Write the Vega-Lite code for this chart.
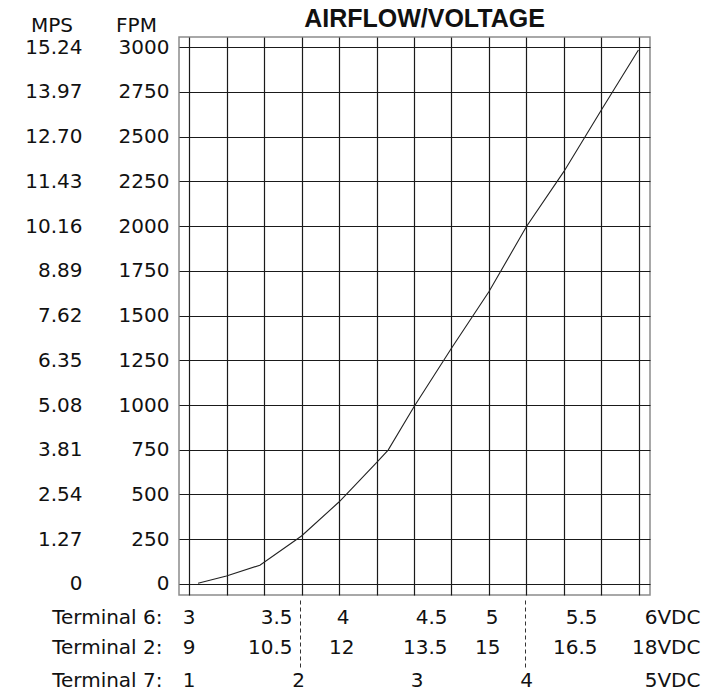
{
  "$schema": "https://vega.github.io/schema/vega-lite/v6.json",
  "width": 471,
  "height": 558,
  "autosize": {"type": "none"},
  "padding": {"left": 179, "top": 37, "right": 64, "bottom": 99},
  "background": "white",
  "title": {
    "text": "AIRFLOW/VOLTAGE",
    "frame": "group",
    "anchor": "middle",
    "dx": 10,
    "offset": -17,
    "font": "Liberation Sans",
    "fontSize": 25,
    "fontWeight": "bold",
    "color": "#111"
  },
  "config": {
    "view": {"stroke": "#8c8c8c", "strokeWidth": 1.5},
    "axis": {
      "labelFont": "DejaVu Sans",
      "labelFontSize": 20,
      "labelColor": "#111",
      "titleFont": "DejaVu Sans",
      "titleFontSize": 20,
      "titleFontWeight": "normal",
      "titleColor": "#111",
      "labelFlush": false,
      "labelOverlap": false,
      "labelBound": false
    }
  },
  "datasets": {
    "curve": [
      {"t7": 1.08, "fpm": 4},
      {"t7": 1.333, "fpm": 45},
      {"t7": 1.63, "fpm": 105},
      {"t7": 2.0, "fpm": 268},
      {"t7": 2.333, "fpm": 458},
      {"t7": 2.667, "fpm": 678},
      {"t7": 2.77, "fpm": 748},
      {"t7": 3.0, "fpm": 990},
      {"t7": 3.333, "fpm": 1317},
      {"t7": 3.667, "fpm": 1634},
      {"t7": 4.0, "fpm": 1997},
      {"t7": 4.333, "fpm": 2305},
      {"t7": 4.667, "fpm": 2650},
      {"t7": 4.995, "fpm": 2983}
    ],
    "mps": [
      {"v": 0}, {"v": 1.27}, {"v": 2.54}, {"v": 3.81}, {"v": 5.08}, {"v": 6.35}, {"v": 7.62},
      {"v": 8.89}, {"v": 10.16}, {"v": 11.43}, {"v": 12.7}, {"v": 13.97}, {"v": 15.24}
    ],
    "t6": [{"v": 3}, {"v": 3.5}, {"v": 4}, {"v": 4.5}, {"v": 5}, {"v": 5.5}, {"v": 6}],
    "t2": [{"v": 9}, {"v": 10.5}, {"v": 12}, {"v": 13.5}, {"v": 15}, {"v": 16.5}, {"v": 18}],
    "t7": [{"v": 1}, {"v": 2}, {"v": 3}, {"v": 4}, {"v": 5}],
    "dash": [{"v": 2}, {"v": 4}]
  },
  "resolve": {
    "scale": {"x": "independent", "y": "independent"},
    "axis": {"x": "independent", "y": "independent"}
  },
  "layer": [
    {
      "data": {"name": "curve"},
      "mark": {"type": "line", "color": "#222", "strokeWidth": 1.1},
      "encoding": {
        "x": {
          "field": "t7", "type": "quantitative",
          "scale": {"domain": [0.911, 5.098], "nice": false, "zero": false},
          "axis": {
            "orient": "bottom",
            "values": [1, 1.3333, 1.6667, 2, 2.3333, 2.6667, 3, 3.3333, 3.6667, 4, 4.3333, 4.6667, 5],
            "grid": true, "gridColor": "#1a1a1a", "gridWidth": 1.2, "gridOpacity": 1,
            "labels": false, "ticks": false, "tickSize": 0, "domain": false, "title": null
          }
        },
        "y": {
          "field": "fpm", "type": "quantitative",
          "scale": {"domain": [-61.5, 3056], "nice": false, "zero": false},
          "axis": {
            "orient": "left",
            "values": [0, 250, 500, 750, 1000, 1250, 1500, 1750, 2000, 2250, 2500, 2750, 3000],
            "format": "d",
            "grid": true, "gridColor": "#1a1a1a", "gridWidth": 1.2, "gridOpacity": 1,
            "ticks": false, "tickSize": 0, "domain": false,
            "labelPadding": 10, "labelBaseline": "middle",
            "title": "FPM", "titleAngle": 0, "titleAlign": "center", "titleBaseline": "alphabetic",
            "titleX": -43, "titleY": -6
          }
        }
      }
    },
    {
      "data": {"name": "mps"},
      "mark": {"type": "point", "opacity": 0},
      "encoding": {
        "y": {
          "field": "v", "type": "quantitative",
          "scale": {"domain": [-0.3124, 15.5245], "nice": false, "zero": false},
          "axis": {
            "orient": "left", "offset": 95,
            "values": [0, 1.27, 2.54, 3.81, 5.08, 6.35, 7.62, 8.89, 10.16, 11.43, 12.7, 13.97, 15.24],
            "labelExpr": "datum.value === 0 ? '0' : format(datum.value, '.2f')",
            "grid": false, "ticks": false, "tickSize": 0, "domain": false,
            "labelPadding": 2, "labelBaseline": "middle",
            "title": "MPS", "titleAngle": 0, "titleAlign": "center", "titleBaseline": "alphabetic",
            "titleX": -32.5, "titleY": -6
          }
        }
      }
    },
    {
      "data": {"name": "t6"},
      "mark": {"type": "point", "opacity": 0},
      "encoding": {
        "x": {
          "field": "v", "type": "quantitative",
          "scale": {"domain": [2.93325, 6.0735], "nice": false, "zero": false},
          "axis": {
            "orient": "bottom",
            "values": [3, 3.5, 4, 4.5, 5, 5.5, 6],
            "labelExpr": "datum.value === 6 ? '6VDC' : '' + datum.value",
            "grid": false, "ticks": false, "tickSize": 0, "domain": false,
            "labelPadding": 22, "labelBaseline": "middle", "labelAlign": "right",
            "labelOffset": {
              "condition": [
                {"test": "datum.value === 6", "value": 61},
                {"test": "datum.value === 3", "value": 6},
                {"test": "datum.value === 4", "value": 10},
                {"test": "datum.value === 5", "value": 9},
                {"test": "datum.value === 3.5", "value": 28}
              ],
              "value": 33
            },
            "title": "Terminal 6:", "titleAngle": 0, "titleAlign": "right", "titleBaseline": "middle",
            "titleX": -17, "titleY": 22
          }
        }
      }
    },
    {
      "data": {"name": "t2"},
      "mark": {"type": "point", "opacity": 0},
      "encoding": {
        "x": {
          "field": "v", "type": "quantitative",
          "scale": {"domain": [8.79975, 18.2205], "nice": false, "zero": false},
          "axis": {
            "orient": "bottom",
            "values": [9, 10.5, 12, 13.5, 15, 16.5, 18],
            "labelExpr": "datum.value === 18 ? '18VDC' : '' + datum.value",
            "grid": false, "ticks": false, "tickSize": 0, "domain": false,
            "labelPadding": 52, "labelBaseline": "middle", "labelAlign": "right",
            "labelOffset": {
              "condition": [
                {"test": "datum.value === 18", "value": 61},
                {"test": "datum.value === 9", "value": 6},
                {"test": "datum.value === 12", "value": 15},
                {"test": "datum.value === 15", "value": 11},
                {"test": "datum.value === 10.5", "value": 28}
              ],
              "value": 33
            },
            "title": "Terminal 2:", "titleAngle": 0, "titleAlign": "right", "titleBaseline": "middle",
            "titleX": -17, "titleY": 52
          }
        }
      }
    },
    {
      "data": {"name": "t7"},
      "mark": {"type": "point", "opacity": 0},
      "encoding": {
        "x": {
          "field": "v", "type": "quantitative",
          "scale": {"domain": [0.911, 5.098], "nice": false, "zero": false},
          "axis": {
            "orient": "bottom",
            "values": [1, 2, 3, 4, 5],
            "labelExpr": "datum.value === 5 ? '5VDC' : '' + datum.value",
            "grid": false, "ticks": false, "tickSize": 0, "domain": false,
            "labelPadding": 85, "labelBaseline": "middle", "labelAlign": "right",
            "labelOffset": {
              "condition": [
                {"test": "datum.value === 5", "value": 61},
                {"test": "datum.value === 1", "value": 6},
                {"test": "datum.value === 2", "value": 3},
                {"test": "datum.value === 3", "value": 9}
              ],
              "value": 6
            },
            "title": "Terminal 7:", "titleAngle": 0, "titleAlign": "right", "titleBaseline": "middle",
            "titleX": -17, "titleY": 85
          }
        }
      }
    },
    {
      "data": {"name": "dash"},
      "mark": {"type": "point", "opacity": 0},
      "encoding": {
        "x": {
          "field": "v", "type": "quantitative",
          "scale": {"domain": [0.911, 5.098], "nice": false, "zero": false},
          "axis": {
            "orient": "bottom", "offset": 5,
            "values": [2, 4],
            "grid": false, "labels": false, "domain": false,
            "ticks": true, "tickSize": 67, "tickDash": [4, 3], "tickWidth": 1, "tickColor": "#333",
            "tickOffset": -1.5,
            "title": null
          }
        }
      }
    }
  ]
}
